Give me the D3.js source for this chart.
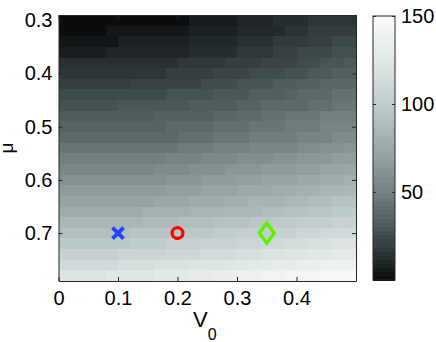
<!DOCTYPE html>
<html>
<head>
<meta charset="utf-8">
<script src="https://cdn.jsdelivr.net/npm/d3@7"></script>
<style>
  body { margin: 0; background: #fff; }
  svg { display: block; font-family: "Liberation Sans", Arial, sans-serif; }
  .axis text { font-size: 20px; fill: #000; }
  .axis path, .axis line { stroke: #262626; }
</style>
</head>
<body>
<div id="chart"></div>
<script>
// heatmap of V0 (x) vs mu (y), grayscale colormap, 3 marked points

const width = 436;
const height = 342;

// cell centres
const v0Values = [0.01, 0.03, 0.05, 0.07, 0.09, 0.11, 0.13, 0.15, 0.17, 0.19, 0.21, 0.23, 0.25,
  0.27, 0.29, 0.31, 0.33, 0.35, 0.37, 0.39, 0.41, 0.43, 0.45, 0.47, 0.49];
const muValues = [0.30, 0.32, 0.34, 0.36, 0.38, 0.40, 0.42, 0.44, 0.46, 0.48, 0.50, 0.52, 0.54,
  0.56, 0.58, 0.60, 0.62, 0.64, 0.66, 0.68, 0.70, 0.72, 0.74, 0.76, 0.78];

// one row per mu value, one column per V0 value
const zValues = [
  [1,1,1,1,1,1,1,1,1,1,1,6,6,6,6,10,10,10,13,13,13,16,16,16,16],
  [1,1,1,1,5,5,5,5,5,5,5,8,8,8,8,11,11,11,11,15,15,19,19,19,19],
  [4,4,4,4,4,8,8,8,8,8,8,11,11,11,11,14,14,14,18,18,18,20,20,24,24],
  [7,7,7,7,10,10,10,10,10,10,10,13,13,13,13,17,17,17,21,21,24,24,24,27,27],
  [14,14,14,14,14,14,14,14,14,14,17,17,17,17,20,20,20,23,23,23,26,26,29,29,31],
  [16,16,16,16,16,16,16,16,16,20,20,20,20,23,23,23,26,26,26,28,28,31,31,34,34],
  [20,20,20,20,20,20,22,22,22,22,22,22,26,26,26,29,29,29,32,32,34,34,37,37,37],
  [25,25,25,25,25,25,25,25,25,28,28,28,28,30,30,30,33,33,33,35,38,38,38,42,42],
  [28,28,28,28,28,30,30,30,30,30,30,32,32,32,32,35,35,38,38,38,38,41,41,44,44],
  [32,32,32,32,32,32,32,32,34,34,34,34,34,37,37,39,39,42,42,45,45,45,49,49,49],
  [35,35,35,35,35,35,35,35,35,38,38,38,38,41,41,41,44,44,44,47,47,47,52,52,52],
  [38,38,38,38,38,38,38,38,38,38,41,41,41,44,44,44,48,48,48,48,52,52,52,57,57],
  [44,44,44,44,44,44,44,44,44,44,47,47,47,50,50,50,53,53,53,53,57,57,60,60,63],
  [49,49,49,49,49,49,49,49,49,52,52,52,55,55,55,58,58,58,61,61,64,64,64,68,68],
  [54,54,54,54,54,54,54,54,57,57,57,60,60,60,63,63,63,66,66,66,69,69,72,72,74],
  [60,60,60,60,60,60,60,60,60,63,63,63,66,66,66,69,69,72,72,72,75,75,78,78,80],
  [66,66,66,66,66,66,66,66,66,69,69,69,72,72,72,75,75,75,78,78,81,81,84,84,86],
  [71,71,71,71,71,71,71,71,74,74,74,77,77,77,80,80,83,83,83,86,86,89,89,93,93],
  [77,77,77,77,77,77,77,80,80,80,80,83,83,83,86,86,86,89,89,92,92,95,95,99,99],
  [84,84,84,84,84,84,84,87,87,87,90,90,90,93,93,93,96,96,99,99,102,102,102,106,106],
  [91,91,91,91,91,91,94,94,94,94,97,97,97,100,100,103,103,103,106,106,109,109,112,112,114],
  [97,97,97,97,97,97,100,100,100,103,103,103,106,106,106,109,109,112,112,115,115,118,118,121,121],
  [105,105,105,105,105,108,108,108,108,111,111,111,114,114,114,117,117,120,120,123,123,126,126,129,129],
  [113,113,113,113,113,116,116,116,119,119,119,122,122,122,125,125,128,128,131,131,134,134,137,137,137],
  [121,121,121,121,124,124,124,124,127,127,127,130,130,133,133,136,136,139,139,142,142,142,145,145,145]
];

const cellW = 0.02;
const cellH = 0.02;

// marked points
const markers = [
  { v0: 0.10, mu: 0.70, shape: "cross", color: "#2243ff" },
  { v0: 0.20, mu: 0.70, shape: "circle", color: "#ff0000" },
  { v0: 0.35, mu: 0.70, shape: "diamond", color: "#5ef000" }
];

const xTicks = [0, 0.1, 0.2, 0.3, 0.4];
const yTicks = [0.3, 0.4, 0.5, 0.6, 0.7];
const cbTicks = [50, 100, 150];

// colormap (gray with a slight cyan tint)
const cmapStops = [0, 12.5, 25, 37.5, 50, 75, 100, 125, 150];
const cmapColors = ["rgb(8,9,10)", "rgb(38,45,47)", "rgb(63,74,76)", "rgb(91,104,106)",
  "rgb(115,129,130)", "rgb(155,169,169)", "rgb(193,204,204)", "rgb(224,231,231)", "rgb(252,252,252)"];

const color = d3.scaleLinear().domain(cmapStops).range(cmapColors).clamp(true);

const plot = { left: 58.5, right: 356, top: 15, bottom: 281 };

const x = d3.scaleLinear().domain([0, 0.5]).range([plot.left, plot.right]);
const y = d3.scaleLinear().domain([0.29, 0.79]).range([plot.top, plot.bottom]);

const svg = d3.select("#chart").append("svg")
  .attr("width", width)
  .attr("height", height);

// cells
const cells = [];
zValues.forEach((row, i) => {
  row.forEach((z, j) => cells.push({ v0: v0Values[j], mu: muValues[i], z }));
});

svg.append("g")
  .attr("shape-rendering", "crispEdges")
  .selectAll("rect")
  .data(cells)
  .join("rect")
  .attr("x", d => x(d.v0 - cellW / 2))
  .attr("y", d => y(d.mu - cellH / 2))
  .attr("width", x(cellW) - x(0) + 0.5)
  .attr("height", y(0.29 + cellH) - y(0.29) + 0.5)
  .attr("fill", d => color(d.z));

// axes (ticks inside, box on)
const tickFmt = d => d === 0 ? "0" : d3.format(".1f")(d);

svg.append("g")
  .attr("class", "axis")
  .attr("transform", `translate(0,${plot.bottom})`)
  .call(d3.axisBottom(x).tickValues(xTicks).tickSizeInner(-4).tickSizeOuter(0).tickPadding(10).tickFormat(tickFmt));

svg.append("g")
  .attr("class", "axis")
  .attr("transform", `translate(0,${plot.top})`)
  .call(d3.axisTop(x).tickValues(xTicks).tickSizeInner(-4).tickSizeOuter(0).tickFormat(""));

svg.append("g")
  .attr("class", "axis")
  .attr("transform", `translate(${plot.left},0)`)
  .call(d3.axisLeft(y).tickValues(yTicks).tickSizeInner(-4).tickSizeOuter(0).tickPadding(6).tickFormat(d3.format(".1f")));

svg.append("g")
  .attr("class", "axis")
  .attr("transform", `translate(${plot.right},0)`)
  .call(d3.axisRight(y).tickValues(yTicks).tickSizeInner(-4).tickSizeOuter(0).tickFormat(""));

// axis titles
const xTitle = svg.append("text")
  .attr("x", 193)
  .attr("y", 327)
  .style("font-size", "22px");
xTitle.append("tspan").text("V");
xTitle.append("tspan").attr("dy", 13).style("font-size", "16px").text("0");

svg.append("text")
  .attr("transform", `translate(13,${(plot.top + plot.bottom) / 2}) rotate(-90)`)
  .attr("text-anchor", "middle")
  .style("font-size", "19px")
  .text("μ");

// markers
const mg = svg.append("g");
markers.forEach(m => {
  const cx = x(m.v0), cy = y(m.mu);
  if (m.shape === "cross") {
    const s = 5.5;
    mg.append("path")
      .attr("d", `M${cx - s},${cy - s}L${cx + s},${cy + s}M${cx - s},${cy + s}L${cx + s},${cy - s}`)
      .attr("stroke", m.color).attr("stroke-width", 3.8).attr("fill", "none");
  } else if (m.shape === "circle") {
    mg.append("circle")
      .attr("cx", cx).attr("cy", cy).attr("r", 5.4)
      .attr("stroke", m.color).attr("stroke-width", 3.3).attr("fill", "none");
  } else {
    mg.append("path")
      .attr("d", `M${cx},${cy - 10}L${cx + 7.5},${cy}L${cx},${cy + 10}L${cx - 7.5},${cy}Z`)
      .attr("stroke", m.color).attr("stroke-width", 3.4).attr("fill", "none");
  }
});

// colorbar
const cb = { left: 373, right: 395, top: 16, bottom: 280 };
const cbScale = d3.scaleLinear().domain([0, 150]).range([cb.bottom, cb.top]);
const nSteps = 64;
const cbSteps = d3.range(nSteps).map(i => (i + 0.5) * 150 / nSteps);

svg.append("g")
  .attr("shape-rendering", "crispEdges")
  .selectAll("rect")
  .data(cbSteps)
  .join("rect")
  .attr("x", cb.left)
  .attr("width", cb.right - cb.left)
  .attr("y", d => cbScale(d + 75 / nSteps))
  .attr("height", cbScale(0) - cbScale(150 / nSteps) + 0.5)
  .attr("fill", d => color(d));

svg.append("rect")
  .attr("x", cb.left).attr("y", cb.top)
  .attr("width", cb.right - cb.left).attr("height", cb.bottom - cb.top)
  .attr("fill", "none").attr("stroke", "#262626");

svg.append("g")
  .attr("class", "axis")
  .attr("transform", `translate(${cb.right},0)`)
  .call(d3.axisRight(cbScale).tickValues(cbTicks).tickSizeInner(-3).tickSizeOuter(0).tickPadding(6))
  .call(g => g.select(".domain").remove());

svg.append("g")
  .attr("class", "axis")
  .attr("transform", `translate(${cb.left},0)`)
  .call(d3.axisLeft(cbScale).tickValues(cbTicks).tickSizeInner(-3).tickSizeOuter(0).tickFormat(""))
  .call(g => g.select(".domain").remove());
</script>
</body>
</html>
